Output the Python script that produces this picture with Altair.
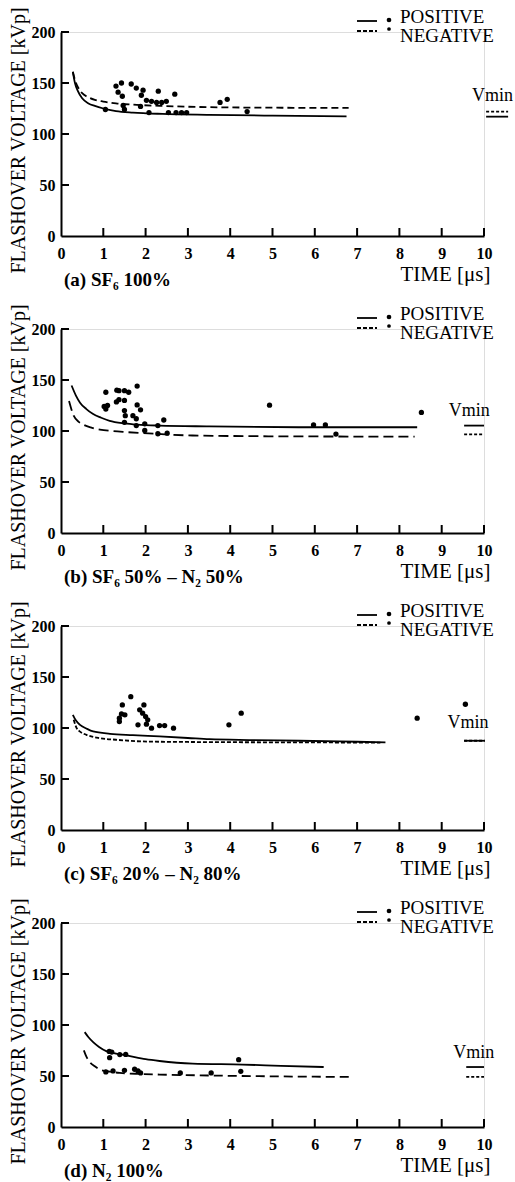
import altair as alt
import pandas as pd

W = 423
H = 204
FONT = "Liberation Serif"

# ---------------- data ----------------
# Panel (a) SF6 100%
a_pos_t = [0.28, 0.33, 0.40, 0.50, 0.65, 0.80, 1.00, 1.30, 1.70, 2.40, 3.50, 5.00, 6.75]
a_pos_v = [161, 150, 142, 135, 130, 127.5, 125, 122.5, 121, 119.7, 118.8, 118, 117.3]
a_neg_t = [0.28, 0.33, 0.40, 0.50, 0.65, 0.80, 1.00, 1.30, 1.70, 2.40, 3.50, 5.00, 6.80]
a_neg_v = [161, 153, 146, 140, 136, 133.5, 131.8, 130, 128.8, 127.5, 126.3, 125.8, 125.6]
a_pt_t = [1.05, 1.30, 1.35, 1.43, 1.45, 1.47, 1.50, 1.66, 1.78, 1.88, 1.90, 1.94, 2.02, 2.08,
          2.14, 2.26, 2.30, 2.38, 2.49, 2.54, 2.69, 2.72, 2.85, 2.97, 3.76, 3.93, 4.40]
a_pt_v = [124, 147, 141, 150, 137, 128, 124, 149, 145, 127, 138, 143, 133, 121,
          132, 131, 142, 131, 132, 121, 139, 121, 121, 121, 131, 134, 122]
a_vmin = {"pos": 117, "neg": 122, "t1": 10.05, "t2": 10.57, "lt": 10.2, "lv": 137}

# Panel (b) SF6 50% - N2 50%
b_pos_t = [0.25, 0.35, 0.45, 0.60, 0.76, 0.95, 1.15, 1.50, 1.80, 2.33, 3.50, 5.62, 8.42]
b_pos_v = [144.6, 135, 127.8, 121.5, 116.6, 113, 110, 107.5, 106.3, 105.3, 104.5, 103.7, 103.7]
b_neg_t = [0.19, 0.30, 0.42, 0.54, 0.70, 0.92, 1.20, 1.55, 2.20, 3.11, 5.62, 8.36]
b_neg_v = [129.5, 115, 109, 106, 103.5, 101.4, 100, 98.9, 97.3, 95.6, 94.7, 94.5]
b_pt_t = [1.02, 1.06, 1.06, 1.10, 1.31, 1.32, 1.37, 1.37, 1.50, 1.50, 1.50, 1.50, 1.52, 1.60,
          1.70, 1.78, 1.78, 1.80, 1.80, 1.88, 1.98, 1.98, 2.29, 2.29, 2.43, 2.51, 4.93, 5.97,
          6.25, 6.50, 8.52]
b_pt_v = [124, 138, 121.5, 125, 128.5, 140, 139.5, 130.7, 139.5, 130, 120, 108.5, 115, 138,
          115, 112, 105.3, 144, 125.6, 120.8, 107, 100.5, 105.3, 97.3, 110.8, 97.9, 125.3, 106,
          106, 97, 118.2]
b_vmin = {"pos": 105.3, "neg": 96.6, "t1": 9.53, "t2": 10.0, "lt": 9.65, "lv": 119.8}

# Panel (c) SF6 20% - N2 80%
c_pos_t = [0.28, 0.35, 0.45, 0.60, 0.76, 1.16, 1.70, 2.33, 3.00, 3.51, 4.50, 5.64, 7.00, 7.67]
c_pos_v = [112.9, 107.5, 103, 99.5, 96.6, 94.3, 93, 91.7, 90.2, 89, 88.2, 87.5, 86.5, 86]
c_neg_t = [0.30, 0.37, 0.45, 0.60, 0.92, 1.30, 1.94, 3.00, 5.64, 7.55]
c_neg_v = [108, 99.8, 96.5, 93.3, 90, 88.5, 86.8, 86.3, 85.9, 85.7]
c_pt_t = [1.38, 1.38, 1.43, 1.45, 1.51, 1.65, 1.82, 1.86, 1.93, 1.96, 2.00, 2.02, 2.05, 2.14,
          2.33, 2.45, 2.66, 3.97, 4.26, 8.42, 9.56]
c_pt_v = [109.6, 106.3, 113.8, 122.6, 112.9, 130.7, 103.1, 117.8, 114.5, 122.6, 111.2, 103.7,
          108, 99.8, 102.4, 102.4, 99.8, 103.1, 114.5, 109.6, 123.3]
c_vmin = {"pos": 87.5, "neg": 87.5, "t1": 9.53, "t2": 10.02, "lt": 9.62, "lv": 105}

# Panel (d) N2 100%
d_pos_t = [0.56, 0.65, 0.76, 0.90, 1.07, 1.30, 1.55, 2.00, 2.33, 3.11, 4.29, 5.20, 6.21]
d_pos_v = [93, 88, 83.2, 78.5, 74.4, 72, 70.2, 66.5, 64.7, 62.1, 61.2, 60, 58.8]
d_neg_t = [0.54, 0.60, 0.68, 0.80, 0.92, 1.15, 1.39, 1.90, 2.33, 3.50, 4.68, 6.00, 6.90]
d_neg_v = [75.1, 69, 63.7, 59.5, 56.3, 54.3, 53, 52, 51.4, 50.5, 49.8, 49.3, 49.1]
d_pt_t = [1.14, 1.20, 1.15, 1.39, 1.53, 4.20, 1.06, 1.23, 1.50, 1.74, 1.82, 1.88, 2.82, 3.55, 4.25]
d_pt_v = [74.1, 73.5, 68, 71, 71.2, 66, 54, 55, 55.6, 56.6, 55, 53, 53, 53, 54.6]
d_vmin = {"pos": 58.8, "neg": 49.1, "t1": 9.58, "t2": 10.0, "lt": 9.76, "lv": 73}

x_ticks = [1, 2, 3, 4, 5, 6, 7, 8, 9, 10]
y_ticks = [50, 100, 150, 200]
x_labels = [0, 1, 2, 3, 4, 5, 6, 7, 8, 9, 10]
y_labels = [0, 50, 100, 150, 200]
legend_labels = ["POSITIVE", "NEGATIVE"]

panels_spec = [
    ("(a)  SF₆ 100%", a_pos_t, a_pos_v, a_neg_t, a_neg_v, a_pt_t, a_pt_v, a_vmin, [7, 4]),
    ("(b)  SF₆ 50%  –  N₂ 50%", b_pos_t, b_pos_v, b_neg_t, b_neg_v, b_pt_t, b_pt_v, b_vmin, [10, 5]),
    ("(c)  SF₆ 20%  –  N₂ 80%", c_pos_t, c_pos_v, c_neg_t, c_neg_v, c_pt_t, c_pt_v, c_vmin, [4, 2]),
    ("(d)  N₂ 100%", d_pos_t, d_pos_v, d_neg_t, d_neg_v, d_pt_t, d_pt_v, d_vmin, [9, 5]),
]

xs = alt.Scale(domain=[0, 10], nice=False, zero=False)
ys = alt.Scale(domain=[0, 200], nice=False, zero=False)


def one(label):
    return pd.DataFrame({"s": [label]})


def make_panel(label, pt, pv, nt, nv, qt, qv, vmin, dash):
    pos_df = pd.DataFrame({"t": pt, "v": pv})
    neg_df = pd.DataFrame({"t": nt, "v": nv})
    pts_df = pd.DataFrame({"t": qt, "v": qv})

    x_enc = alt.X("t:Q", scale=xs, axis=alt.Axis(
        values=x_labels, ticks=False, grid=False, domainColor="black", domainWidth=2,
        labelFont=FONT, labelFontSize=16, labelFontWeight="bold", labelColor="black",
        labelPadding=9, labelFlush=False,
        title="TIME [μs]", titleFont=FONT, titleFontSize=21, titleFontWeight="normal",
        titleColor="black", titleAnchor="end", titleAlign="right", titleX=W + 6,
        titlePadding=2))
    y_enc = alt.Y("v:Q", scale=ys, axis=alt.Axis(
        values=y_labels, ticks=False, grid=False, domainColor="black", domainWidth=2,
        labelFont=FONT, labelFontSize=16, labelFontWeight="bold", labelColor="black",
        labelPadding=6, labelFlush=False,
        title="FLASHOVER VOLTAGE [kVp]", titleFont=FONT, titleFontSize=20,
        titleFontWeight="normal", titleColor="black", titlePadding=3,
        titleY=H / 2 + 6))

    base_pos = alt.Chart(pos_df).mark_line(color="black", strokeWidth=1.8,
                                          interpolate="monotone").encode(x=x_enc, y=y_enc)
    base_neg = alt.Chart(neg_df).mark_line(color="black", strokeWidth=1.8, strokeDash=dash,
                                          interpolate="monotone").encode(x="t:Q", y="v:Q")
    dots = alt.Chart(pts_df).mark_circle(color="black", size=28, opacity=1).encode(
        x="t:Q", y="v:Q")

    xt = alt.Chart(pd.DataFrame({"t": x_ticks})).mark_rule(color="black", strokeWidth=2).encode(
        x="t:Q", y=alt.value(H), y2=alt.value(H - 8))
    yt = alt.Chart(pd.DataFrame({"v": y_ticks})).mark_rule(color="black", strokeWidth=2).encode(
        y="v:Q", x=alt.value(0), x2=alt.value(8))

    vdf_pos = pd.DataFrame({"t": [vmin["t1"]], "t2": [vmin["t2"]], "v": [vmin["pos"]]})
    vdf_neg = pd.DataFrame({"t": [vmin["t1"]], "t2": [vmin["t2"]], "v": [vmin["neg"]]})
    vpos = alt.Chart(vdf_pos).mark_rule(color="black", strokeWidth=1.8).encode(
        x="t:Q", x2="t2:Q", y="v:Q")
    vneg = alt.Chart(vdf_neg).mark_rule(color="black", strokeWidth=1.8, strokeDash=[3, 2]).encode(
        x="t:Q", x2="t2:Q", y="v:Q")
    vtxt = alt.Chart(pd.DataFrame({"t": [vmin["lt"]], "v": [vmin["lv"]], "s": ["Vmin"]})).mark_text(
        font=FONT, fontSize=18, color="black", align="center", baseline="middle").encode(
        x="t:Q", y="v:Q", text="s:N")

    # legend (drawn by hand, top right)
    txt = dict(font=FONT, fontSize=19, color="black", align="left", baseline="middle")
    leg_pos_txt = alt.Chart(one(legend_labels[0])).mark_text(**txt).encode(
        x=alt.value(339), y=alt.value(-15), text="s:N")
    leg_neg_txt = alt.Chart(one(legend_labels[1])).mark_text(**txt).encode(
        x=alt.value(339), y=alt.value(4), text="s:N")
    leg_pos_line = alt.Chart(one(legend_labels[0])).mark_rule(
        color="black", strokeWidth=1.8).encode(
        x=alt.value(296), x2=alt.value(316), y=alt.value(-11))
    leg_neg_line = alt.Chart(one(legend_labels[1])).mark_rule(
        color="black", strokeWidth=1.8, strokeDash=[4, 2]).encode(
        x=alt.value(296), x2=alt.value(316), y=alt.value(-1))
    leg_pos_dot = alt.Chart(one(legend_labels[0])).mark_circle(
        color="black", size=22, opacity=1).encode(x=alt.value(328), y=alt.value(-12))
    leg_neg_dot = alt.Chart(one(legend_labels[1])).mark_circle(
        color="black", size=14, opacity=1).encode(x=alt.value(328), y=alt.value(-3))

    sub = alt.Chart(one(label)).mark_text(
        font=FONT, fontSize=19, fontWeight="bold", color="black", align="left",
        baseline="middle").encode(x=alt.value(3), y=alt.value(H + 44), text="s:N")

    return alt.layer(base_pos, base_neg, dots, xt, yt, vpos, vneg, vtxt,
                     leg_pos_txt, leg_neg_txt, leg_pos_line, leg_neg_line,
                     leg_pos_dot, leg_neg_dot, sub).properties(width=W, height=H)


panels = [make_panel(*p) for p in panels_spec]

chart = alt.vconcat(*panels, spacing=93, bounds="flush").properties(
    padding={"left": 7, "top": 6, "right": 0, "bottom": 0}
).configure_view(stroke=None).configure(background="white")

chart.save("out.html", embed_options={"renderer": "svg", "actions": False})
